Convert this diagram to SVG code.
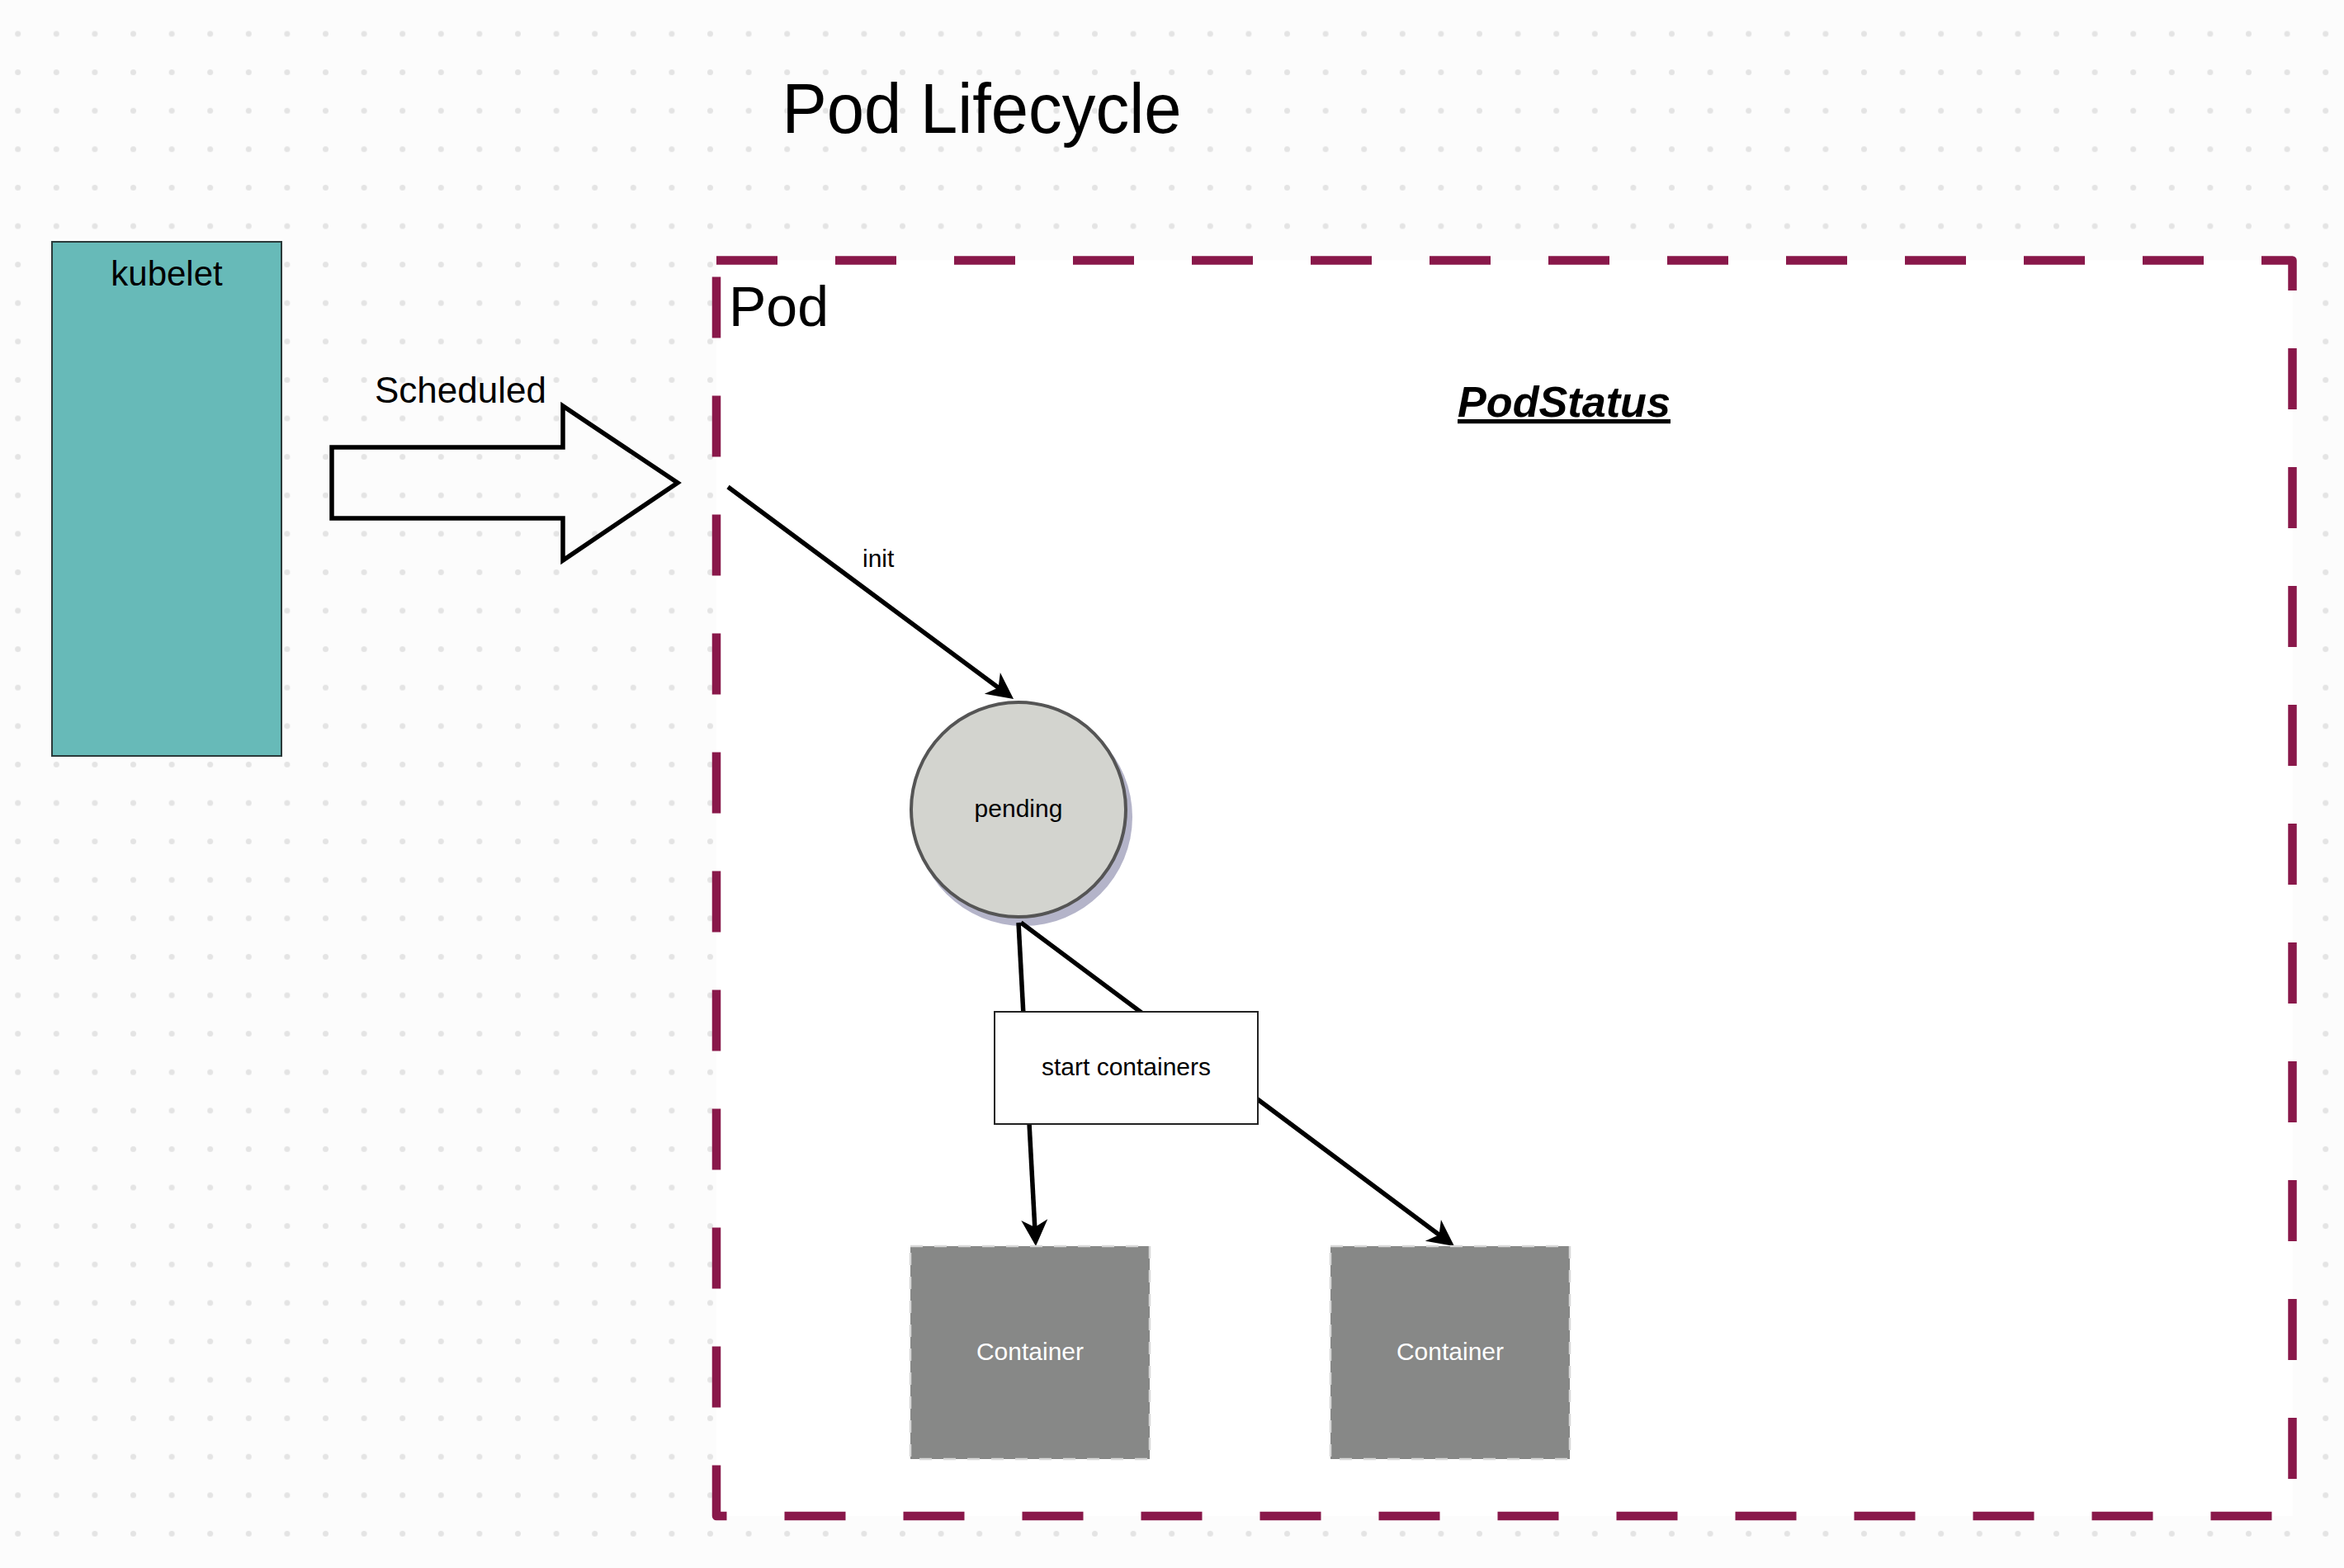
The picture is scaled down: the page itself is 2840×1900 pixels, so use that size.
<svg xmlns="http://www.w3.org/2000/svg" width="2840" height="1900" viewBox="0 0 2840 1900">
  <style>
    .sans { font-family: "Liberation Sans", Arial, sans-serif; }
    .conn { stroke: #000000; stroke-width: 5.5; fill: none; }
    .lbl30 { font-size: 30px; fill: #000000; }
    .ctr { fill: #878887; stroke: #d8d8d8; stroke-width: 2.5; stroke-dasharray: 15 14; }
    .ctrtxt { font-size: 30px; fill: #ffffff; }
  </style>
  <defs>
    <pattern id="dots" patternUnits="userSpaceOnUse" x="-1.6" y="17.7" width="46.6" height="46.6">
      <circle cx="23.3" cy="23.3" r="3.5" fill="#e4e4e4"/>
    </pattern>
    <marker id="arrow" markerUnits="userSpaceOnUse" markerWidth="40" markerHeight="40" refX="0" refY="0" orient="auto" overflow="visible">
      <path d="M15,0 L-17,-16 L-8,0 L-17,16 Z" fill="#000000"/>
    </marker>
  </defs>

  <rect x="0" y="0" width="2840" height="1900" fill="#fcfcfc"/>
  <rect x="0" y="0" width="2840" height="1900" fill="url(#dots)"/>

  <g id="title">
    <text class="sans" x="947.5" y="160.5" font-size="86" textLength="484" lengthAdjust="spacingAndGlyphs" fill="#000000">Pod Lifecycle</text>
  </g>

  <g id="pod">
    <path d="M868,315.5 H2777.5 V1837 H868 Z" fill="#ffffff" stroke="#89184a" stroke-width="10.5" stroke-dasharray="74 70" stroke-linejoin="round"/>
    <text class="sans" x="883" y="395" font-size="68" fill="#000000">Pod</text>
  </g>

  <g id="podstatus">
    <text class="sans" x="1766" y="505" font-size="52" font-weight="bold" font-style="italic" text-decoration="underline" textLength="258" lengthAdjust="spacingAndGlyphs" fill="#000000">PodStatus</text>
  </g>

  <g id="kubelet">
    <rect x="63" y="293" width="278" height="623" fill="#67bab8" stroke="#2b3a3a" stroke-width="2"/>
    <text class="sans" x="202" y="346" font-size="42" text-anchor="middle" fill="#000000">kubelet</text>
  </g>

  <g id="scheduled">
    <polygon points="402,542 682,542 682,492 821,585 682,679 682,628 402,628" fill="none" stroke="#000000" stroke-width="5.5" stroke-linejoin="miter"/>
    <text class="sans" x="558" y="488" font-size="44" text-anchor="middle" fill="#000000">Scheduled</text>
  </g>

  <g id="pending">
    <circle cx="1240" cy="990" r="132" fill="#b4b4c9"/>
    <circle cx="1234" cy="981" r="130" fill="#d3d4cf" stroke="#555555" stroke-width="4"/>
    <text class="sans lbl30" x="1234" y="990" text-anchor="middle">pending</text>
  </g>

  <g id="connectors">
    <line class="conn" x1="882" y1="590" x2="1216" y2="838" marker-end="url(#arrow)"/>
    <text class="sans lbl30" x="1045" y="687">init</text>
    <line class="conn" x1="1234" y1="1118" x2="1254.2" y2="1495" marker-end="url(#arrow)"/>
    <line class="conn" x1="1237" y1="1118" x2="1750" y2="1501" marker-end="url(#arrow)"/>
  </g>

  <g id="start-containers">
    <rect x="1205" y="1226" width="319" height="136" fill="#ffffff" stroke="#222222" stroke-width="2"/>
    <text class="sans lbl30" x="1364.5" y="1303" text-anchor="middle">start containers</text>
  </g>

  <g id="container-1">
    <rect class="ctr" x="1103" y="1510" width="290" height="258"/>
    <text class="sans ctrtxt" x="1248" y="1648" text-anchor="middle">Container</text>
  </g>

  <g id="container-2">
    <rect class="ctr" x="1612" y="1510" width="290" height="258"/>
    <text class="sans ctrtxt" x="1757" y="1648" text-anchor="middle">Container</text>
  </g>
</svg>
